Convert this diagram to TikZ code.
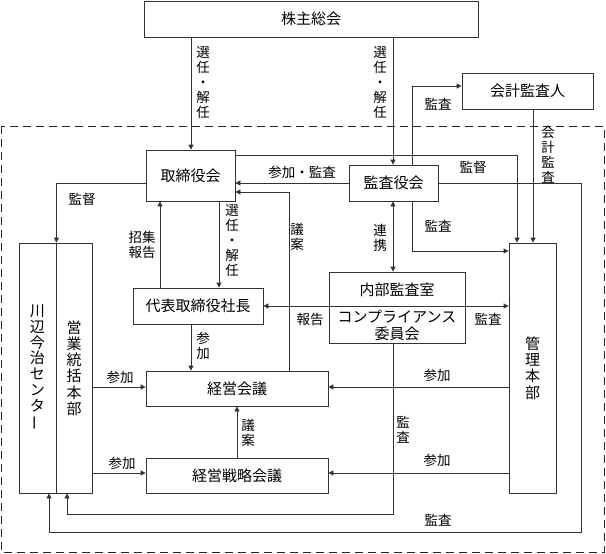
\documentclass[tikz,border=0pt]{standalone}
\usepackage{fontspec}
\usepackage{graphicx}
\setmainfont{Noto Sans CJK JP}
\usetikzlibrary{arrows.meta}
\begin{document}
\begin{tikzpicture}[x=1pt,y=-1pt,
  box/.style={draw=black!80, line width=0.8pt, inner sep=0pt, align=center, font=\fontsize{15}{16}\selectfont},
  lbl/.style={inner sep=0pt, align=center, font=\fontsize{13.5}{15}\selectfont},
  ln/.style={draw=black!80, line width=0.8pt},
  arr/.style={ln, -{Triangle[length=5pt,width=5pt]}},
  darr/.style={ln, {Triangle[length=5pt,width=5pt]}-{Triangle[length=5pt,width=5pt]}}]
\path[use as bounding box] (0,0) rectangle (606,554);
\draw[black!85, line width=0.9pt, dash pattern=on 8pt off 5pt] (1,126) rectangle (604,552);

% boxes
\node[box, minimum width=334pt, minimum height=36pt] (kabu) at (311,19) {株主総会};
\node[box, minimum width=131pt, minimum height=36pt] (kaikei) at (527.5,91) {会計監査人};
\node[box, minimum width=89pt, minimum height=51pt] (tori) at (190.5,175.5) {取締役会};
\node[box, minimum width=89pt, minimum height=36pt] (kansa) at (393.5,183) {監査役会};
\node[box, minimum width=37pt, minimum height=250pt, font=\fontsize{15}{15.7}\selectfont] (kawa) at (37.5,368) {川\\辺\\今\\治\\セ\\ン\\タ\\\rotatebox[origin=c]{90}{ー}};
\node[box, minimum width=36pt, minimum height=250pt, font=\fontsize{15}{16.2}\selectfont] (eigyo) at (74,368) {営\\業\\統\\括\\本\\部};
\node[box, minimum width=130pt, minimum height=36pt] (daihyo) at (198,306) {代表取締役社長};
\node[box, minimum width=136pt, minimum height=71pt] (naibu) at (397,307.5) {};
\node[inner sep=0pt, font=\fontsize{15}{16}\selectfont] (naibuA) at (397,290) {内部監査室};
\node[inner sep=0pt, align=center, font=\fontsize{15}{17}\selectfont] (naibuB) at (397,325.5) {コンプライアンス\\委員会};
\node[box, minimum width=47pt, minimum height=250pt, font=\fontsize{15}{16.3}\selectfont] (kanri) at (532.5,368) {管\\理\\本\\部};
\node[box, minimum width=182pt, minimum height=35pt] (keiei) at (237,388.5) {経営会議};
\node[box, minimum width=182pt, minimum height=35pt] (senryaku) at (237,475.5) {経営戦略会議};

% connectors
\draw[arr] (kabu.south -| 191,0) -- (tori.north -| 191,0);
\node[lbl] at (203,83) {選\\任\\・\\解\\任};
\draw[arr] (kabu.south -| 393,0) -- (kansa.north -| 393,0);
\node[lbl] at (380,83) {選\\任\\・\\解\\任};
\draw[arr] (kansa.north -| 412,0) |- (kaikei.west |- 0,86);
\node[lbl] at (438,104) {監査};
\draw[arr] (kaikei.south -| 533,0) -- (kanri.north -| 533,0);
\node[lbl] at (548,155) {会\\計\\監\\査};
\draw[arr] (tori.east |- 0,155) -| (kanri.north -| 517,0);
\node[lbl] at (473,167) {監督};
\draw[arr] (kansa.west) -- (tori.east |- kansa.west);
\node[lbl] at (302,172) {参加・監査};
\draw[arr] (keiei.north -| 289,0) |- (tori.east |- 0,192);
\node[lbl] at (297,237) {議\\案};
\draw[arr] (tori.west |- 0,183) -| (kawa.north east);
\node[lbl] at (82,199) {監督};
\draw[arr] (daihyo.north -| 160,0) -- (tori.south -| 160,0);
\node[lbl] at (142,245) {招集\\報告};
\draw[arr] (tori.south -| 219,0) -- (daihyo.north -| 219,0);
\node[lbl] at (232,241) {選\\任\\・\\解\\任};
\draw[arr] (daihyo.south -| 191,0) -- (keiei.north -| 191,0);
\node[lbl] at (203,346) {参\\加};
\draw[darr] (kansa.south -| 393,0) -- (naibu.north -| 393,0);
\node[lbl] at (380,238) {連\\携};
\draw[arr] (kansa.south -| 412,0) |- (kanri.west |- 0,251);
\node[lbl] at (438,226) {監査};
\draw[ln] (naibu.west |- daihyo.east) -- (naibu.east |- daihyo.east);
\draw[arr] (naibu.west |- daihyo.east) -- (daihyo.east);
\draw[arr] (naibu.east |- daihyo.east) -- (kanri.west |- daihyo.east);
\node[lbl] at (310,319) {報告};
\node[lbl] at (488,319) {監査};
\draw[arr] (naibu.south -| 393,0) |- (67,514) -- (eigyo.south -| 67,0);
\node[lbl] at (403,430) {監\\査};
\draw[arr] (kansa.east) -| (581,532) -| (kawa.south -| 49,0);
\node[lbl] at (438,520) {監査};
\draw[arr] (kanri.west |- 0,387) -- (keiei.east |- 0,387);
\node[lbl] at (437,375) {参加};
\draw[arr] (kanri.west |- 0,473) -- (senryaku.east |- 0,473);
\node[lbl] at (437,460) {参加};
\draw[arr] (eigyo.east |- 0,387) -- (keiei.west |- 0,387);
\node[lbl] at (120,377) {参加};
\draw[arr] (eigyo.east |- 0,473) -- (senryaku.west |- 0,473);
\node[lbl] at (122,463) {参加};
\draw[arr] (senryaku.north) -- (keiei.south);
\node[lbl] at (248,433) {議\\案};
\end{tikzpicture}
\end{document}
